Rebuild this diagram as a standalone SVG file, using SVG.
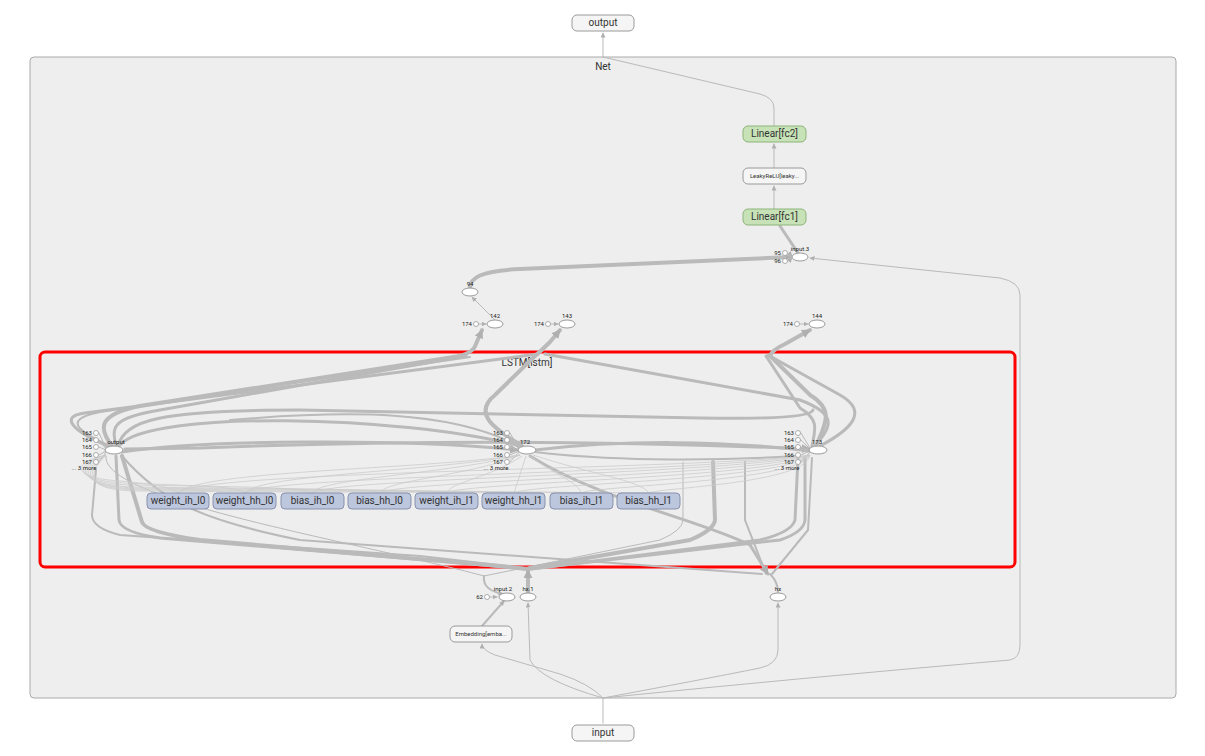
<svg xmlns="http://www.w3.org/2000/svg" width="1205" height="756" viewBox="0 0 1205 756">
<style>
  text { font-family: Roboto, "Liberation Sans", sans-serif; fill: #333; }
  .lbl { font-size: 10px; text-anchor: middle; dominant-baseline: middle; }
  .sm { font-size: 6px; text-anchor: middle; dominant-baseline: middle; fill: #222; }
  .smr { font-size: 6px; text-anchor: end; dominant-baseline: middle; fill: #222; }
  .op { fill: #f5f5f5; stroke: #9a9a9a; stroke-width: 1; }
  .mod { fill: #c6e2b6; stroke: #8db47a; stroke-width: 1; }
  .par { fill: #bcc6dd; stroke: #8791ad; stroke-width: 1; }
  .ell { fill: #ffffff; stroke: #9a9a9a; stroke-width: 1; }
  .dot { fill: #ffffff; stroke: #9a9a9a; stroke-width: 0.8; }
  .e { fill: none; stroke: #bababa; stroke-linecap: round; }
  .w1 { stroke-width: 1; }
  .w2 { stroke-width: 2; }
  .w3 { stroke-width: 3; }
  .w4 { stroke-width: 4; }
  .thin { fill: none; stroke: #cccccc; stroke-width: 0.8; }
</style>
<defs>
  <marker id="arr" viewBox="0 0 10 10" refX="9" refY="5" markerWidth="5" markerHeight="5" orient="auto" markerUnits="userSpaceOnUse">
    <path d="M0,0 L10,5 L0,10 z" fill="#b0b0b0"/>
  </marker>
  <marker id="arrB" viewBox="0 0 10 10" refX="9" refY="5" markerWidth="9" markerHeight="9" orient="auto" markerUnits="userSpaceOnUse">
    <path d="M0,0 L10,5 L0,10 z" fill="#b0b0b0"/>
  </marker>
</defs>

<rect width="1205" height="756" fill="#ffffff"/>

<!-- Net container -->
<g id="net">
  <rect x="30" y="57" width="1146" height="641" rx="4" fill="#eeeeee" stroke="#aaaaaa" stroke-width="1"/>
  <text class="lbl" x="603" y="67">Net</text>
</g>

<!-- LSTM container -->
<g id="lstm">
  <rect x="40" y="352" width="975" height="215" rx="5" fill="#eeeeee" stroke="#ff0000" stroke-width="3"/>
  <text class="lbl" x="527" y="363">LSTM[lstm]</text>
</g>

<!-- connectors -->
<g id="edges">
  <!-- top chain -->
  <path class="e w1" d="M603,57 L603,33" marker-end="url(#arr)"/>
  <path class="e w1" d="M774,126 L774,108 Q774,98 760,94 L603,57"/>
  <path class="e w1" d="M774,168 L774,144" marker-end="url(#arr)"/>
  <path class="e w1" d="M774,209 L774,186" marker-end="url(#arr)"/>
  <path class="e w3" d="M798,253 L780,226"/>
  <path class="e w1" d="M789,253 L792,256" marker-end="url(#arr)"/>
  <path class="e w1" d="M789,261 L792,258" marker-end="url(#arr)"/>
  <path class="e w4" d="M470,288 C470,278 480,271 520,269 L790,257" marker-end="url(#arr)"/>
  <path class="e w1" d="M495,320 L472,297" marker-end="url(#arr)"/>
  <!-- small inputs into 142/143/144 -->
  <path class="e w1" d="M479,324 L486,324" marker-end="url(#arr)"/>
  <path class="e w1" d="M551,324 L558,324" marker-end="url(#arr)"/>
  <path class="e w1" d="M800,324 L808,324" marker-end="url(#arr)"/>

  <!-- input fan-out -->
  <path class="e w1" d="M603,723 L603,699" />
  <path class="e w1" d="M603,698 Q590,684 560,674 L495,655 Q482,650 482,644" marker-end="url(#arr)"/>
  <path class="e w1" d="M603,698 Q540,680 530,660 L528,603" marker-end="url(#arr)"/>
  <path class="e w1" d="M603,698 Q700,680 760,668 Q778,664 778,650 L778,603" marker-end="url(#arr)"/>
  <path class="e w1" d="M603,698 Q800,678 1010,660 Q1020,658 1020,645 L1020,295 Q1020,282 1000,278 L810,258" marker-end="url(#arr)"/>
  <path class="e w2" d="M482,626 L504,601" marker-end="url(#arr)"/>
  <path class="e w1" d="M490,597 L497,597" marker-end="url(#arr)"/>

  <!-- LSTM outgoing towards 142 -->
  <path class="e w4" d="M112,446 C100,430 95,415 140,406 L460,356 Q474,352 476,344 L482,330" marker-end="url(#arrB)"/>
  <path class="e w3" d="M116,446 C112,428 110,418 160,410 L466,356"/>
  <path class="e w2" d="M110,446 C80,432 60,420 100,412 L470,357"/>
  <!-- towards 143 -->
  <path class="e w4" d="M522,446 C500,432 470,415 495,395 L535,356 Q542,350 550,342 L560,330" marker-end="url(#arrB)"/>
  <path class="e w3" d="M108,446 C70,430 60,416 85,413 L538,354"/>
  <path class="e w3" d="M815,446 C830,428 840,415 800,400 L545,354"/>
  <!-- towards 144 -->
  <path class="e w4" d="M816,446 C825,425 835,410 810,395 L770,356 Q772,350 785,344 L810,330" marker-end="url(#arrB)"/>
  <path class="e w3" d="M820,446 C850,430 870,412 840,395 L768,355"/>
  <path class="e w3" d="M812,446 C815,430 820,420 800,408 L766,356"/>

  <!-- long arcs between cells -->
  <path class="e w3" d="M118,446 C125,420 160,410 300,410 L700,418 Q810,420 813,410"/>
  <path class="e w3" d="M125,449 L200,448 C400,440 600,440 810,449" marker-end="url(#arrB)"/>
  <path class="e w3" d="M122,452 C200,440 400,438 518,450" marker-end="url(#arrB)"/>
  <path class="e w3" d="M535,450 C620,440 720,440 810,451"/>
  <path class="e w2" d="M535,452 C600,460 700,462 795,456"/>
  <path class="e w2" d="M230,420 C350,410 450,410 519,446"/>
  <path class="e w3" d="M120,445 C150,410 400,415 520,446"/>

  <!-- state inputs: hx.1 upward into the cells -->
  <path class="e w4" d="M528,593 L528,570" marker-end="url(#arrB)"/>
  <path class="e w2" d="M96,470 L92,515 Q92,528 120,535 L420,556 L526,568" />
  <path class="e w3" d="M116,456 L119,520 Q120,532 160,538 L450,562 L526,569" />
  <path class="e w4" d="M122,456 L142,522 Q145,532 200,540 L500,566 L527,569" />
  <path class="e w4" d="M713,462 L715,520 Q714,530 690,540 L530,568"/>
  <path class="e w3" d="M805,458 L805,520 Q804,532 780,540 L530,569" />
  <path class="e w3" d="M798,458 L795,520 Q792,532 760,540 L531,569" />
  <!-- hx -->
  <path class="e w2" d="M122,456 C160,500 200,520 300,540 L762,574" />
  <path class="e w2" d="M745,462 L745,520 L766,574" />
  <path class="e w2" d="M812,458 L808,530 L772,574" />
  <path class="e w3" d="M530,456 C600,500 700,520 750,545 L768,574" marker-end="url(#arrB)"/>
  <path class="e w2" d="M770,574 Q778,582 778,592" />
  <!-- input.2 -->
  <path class="e w1" d="M683,462 L683,520 Q683,530 660,540 L484,576" />
  <path class="e w1" d="M106,456 C100,500 350,540 484,576" />
  <path class="e w2" d="M484,576 Q482,590 503,594" marker-end="url(#arr)"/>

  <!-- small inputs into output/172/173 -->
  <path class="e w1" d="M99,433 L106,448"/>
  <path class="e w1" d="M99,440 L106,449"/>
  <path class="e w1" d="M99,447 L106,450"/>
  <path class="e w1" d="M99,455 L106,451"/>
  <path class="e w1" d="M99,462 L106,452"/>
  <path class="e w1" d="M510,433 L519,448"/>
  <path class="e w1" d="M510,440 L519,449"/>
  <path class="e w1" d="M510,447 L519,450"/>
  <path class="e w1" d="M510,455 L519,451"/>
  <path class="e w1" d="M510,462 L519,452"/>
  <path class="e w1" d="M801,433 L810,448"/>
  <path class="e w1" d="M801,440 L810,449"/>
  <path class="e w1" d="M801,447 L810,450"/>
  <path class="e w1" d="M801,455 L810,451"/>
  <path class="e w1" d="M801,462 L810,452"/>

  <!-- parameter feeds -->
  <path class="thin" d="M106,455 C72,462 70,478 120,481 C150,484 170,486 178,493"/>
  <path class="thin" d="M106,455 C74,464 72,480 124,483 C200,486 236,486 245,493"/>
  <path class="thin" d="M106,455 C76,466 74,482 128,485 C250,487 302,487 312,493"/>
  <path class="thin" d="M106,455 C78,468 76,484 132,487 C280,489 370,488 380,493"/>
  <path class="thin" d="M106,455 C80,470 78,486 136,488 C300,490 438,489 447,493"/>
  <path class="thin" d="M106,455 C82,472 80,488 140,489 C320,491 505,490 514,493"/>
  <path class="thin" d="M106,455 C84,474 82,490 144,490 C330,492 572,491 581,493"/>
  <path class="thin" d="M106,455 C86,476 84,492 148,491 C340,493 640,492 649,493"/>
  <path class="thin" d="M520,455 C420,470 200,470 178,493"/>
  <path class="thin" d="M520,455 C430,472 260,474 245,493"/>
  <path class="thin" d="M520,455 C450,474 320,478 312,493"/>
  <path class="thin" d="M520,455 C470,476 385,480 380,493"/>
  <path class="thin" d="M522,456 C490,478 450,482 447,493"/>
  <path class="thin" d="M526,456 L514,493"/>
  <path class="thin" d="M530,456 C560,478 578,482 581,493"/>
  <path class="thin" d="M533,455 C590,474 640,480 649,493"/>
  <path class="thin" d="M810,455 C700,470 200,470 178,493"/>
  <path class="thin" d="M810,455 C720,472 260,476 245,493"/>
  <path class="thin" d="M810,455 C740,474 330,478 312,493"/>
  <path class="thin" d="M810,455 C760,476 400,480 380,493"/>
  <path class="thin" d="M810,455 C780,478 460,482 447,493"/>
  <path class="thin" d="M810,455 C790,480 525,484 514,493"/>
  <path class="thin" d="M810,455 C800,482 590,486 581,493"/>
  <path class="thin" d="M810,455 C806,484 655,488 649,493"/>
</g>

<!-- top-level nodes -->
<g id="node-output">
  <rect class="op" x="572" y="15" width="62" height="16" rx="5"/>
  <text class="lbl" x="603" y="23.5">output</text>
</g>
<g id="node-fc2">
  <rect class="mod" x="743" y="126" width="63" height="16" rx="5"/>
  <text class="lbl" x="774.5" y="134.5">Linear[fc2]</text>
</g>
<g id="node-leaky">
  <rect class="op" x="743" y="168" width="63" height="16" rx="5"/>
  <text class="lbl" x="774.5" y="176.5" style="font-size:6px">LeakyReLU[leaky...</text>
</g>
<g id="node-fc1">
  <rect class="mod" x="743" y="209" width="63" height="16" rx="5"/>
  <text class="lbl" x="774.5" y="217.5">Linear[fc1]</text>
</g>
<g id="node-input3">
  <ellipse class="ell" cx="800" cy="257" rx="8" ry="4"/>
  <text class="sm" x="800" y="249">input.3</text>
  <circle class="dot" cx="785" cy="253" r="2.5"/>
  <text class="smr" x="781" y="253.5">95</text>
  <circle class="dot" cx="785" cy="261" r="2.5"/>
  <text class="smr" x="781" y="261.5">96</text>
</g>
<g id="node-94">
  <ellipse class="ell" cx="470" cy="292" rx="8" ry="4"/>
  <text class="sm" x="470" y="284">94</text>
</g>
<g id="node-142">
  <ellipse class="ell" cx="495" cy="324" rx="8" ry="4"/>
  <text class="sm" x="495" y="316">142</text>
  <circle class="dot" cx="476" cy="324" r="2.5"/>
  <text class="smr" x="472" y="324.5">174</text>
</g>
<g id="node-143">
  <ellipse class="ell" cx="567" cy="324" rx="8" ry="4"/>
  <text class="sm" x="567" y="316">143</text>
  <circle class="dot" cx="548" cy="324" r="2.5"/>
  <text class="smr" x="544" y="324.5">174</text>
</g>
<g id="node-144">
  <ellipse class="ell" cx="817" cy="324" rx="8" ry="4"/>
  <text class="sm" x="817" y="316">144</text>
  <circle class="dot" cx="797" cy="324" r="2.5"/>
  <text class="smr" x="793" y="324.5">174</text>
</g>

<!-- LSTM cells -->
<g id="node-lstm-output">
  <ellipse class="ell" cx="114" cy="450" rx="9" ry="4"/>
  <text class="sm" x="116" y="442">output</text>
  <circle class="dot" cx="96" cy="433" r="2.5"/><text class="smr" x="92" y="433.5">163</text>
  <circle class="dot" cx="96" cy="440" r="2.5"/><text class="smr" x="92" y="440.5">164</text>
  <circle class="dot" cx="96" cy="447" r="2.5"/><text class="smr" x="92" y="447.5">165</text>
  <circle class="dot" cx="96" cy="455" r="2.5"/><text class="smr" x="92" y="455.5">166</text>
  <circle class="dot" cx="96" cy="462" r="2.5"/><text class="smr" x="92" y="462.5">167</text>
  <text class="sm" x="84" y="468.5">... 3 more</text>
</g>
<g id="node-172">
  <ellipse class="ell" cx="527" cy="450" rx="9" ry="4"/>
  <text class="sm" x="525" y="442">172</text>
  <circle class="dot" cx="507" cy="433" r="2.5"/><text class="smr" x="503" y="433.5">163</text>
  <circle class="dot" cx="507" cy="440" r="2.5"/><text class="smr" x="503" y="440.5">164</text>
  <circle class="dot" cx="507" cy="447" r="2.5"/><text class="smr" x="503" y="447.5">165</text>
  <circle class="dot" cx="507" cy="455" r="2.5"/><text class="smr" x="503" y="455.5">166</text>
  <circle class="dot" cx="507" cy="462" r="2.5"/><text class="smr" x="503" y="462.5">167</text>
  <text class="sm" x="496" y="468.5">... 3 more</text>
</g>
<g id="node-173">
  <ellipse class="ell" cx="818" cy="450" rx="9" ry="4"/>
  <text class="sm" x="817" y="442">173</text>
  <circle class="dot" cx="798" cy="433" r="2.5"/><text class="smr" x="794" y="433.5">163</text>
  <circle class="dot" cx="798" cy="440" r="2.5"/><text class="smr" x="794" y="440.5">164</text>
  <circle class="dot" cx="798" cy="447" r="2.5"/><text class="smr" x="794" y="447.5">165</text>
  <circle class="dot" cx="798" cy="455" r="2.5"/><text class="smr" x="794" y="455.5">166</text>
  <circle class="dot" cx="798" cy="462" r="2.5"/><text class="smr" x="794" y="462.5">167</text>
  <text class="sm" x="787" y="468.5">... 3 more</text>
</g>

<!-- LSTM parameters -->
<g id="node-weight_ih_l0"><rect class="par" x="147" y="493" width="62" height="16" rx="4"/><text class="lbl" x="178" y="501.5">weight_ih_l0</text></g>
<g id="node-weight_hh_l0"><rect class="par" x="213" y="493" width="63" height="16" rx="4"/><text class="lbl" x="244.5" y="501.5">weight_hh_l0</text></g>
<g id="node-bias_ih_l0"><rect class="par" x="281" y="493" width="63" height="16" rx="4"/><text class="lbl" x="312.5" y="501.5">bias_ih_l0</text></g>
<g id="node-bias_hh_l0"><rect class="par" x="348" y="493" width="63" height="16" rx="4"/><text class="lbl" x="379.5" y="501.5">bias_hh_l0</text></g>
<g id="node-weight_ih_l1"><rect class="par" x="415" y="493" width="63" height="16" rx="4"/><text class="lbl" x="446.5" y="501.5">weight_ih_l1</text></g>
<g id="node-weight_hh_l1"><rect class="par" x="482" y="493" width="63" height="16" rx="4"/><text class="lbl" x="513.5" y="501.5">weight_hh_l1</text></g>
<g id="node-bias_ih_l1"><rect class="par" x="550" y="493" width="63" height="16" rx="4"/><text class="lbl" x="581.5" y="501.5">bias_ih_l1</text></g>
<g id="node-bias_hh_l1"><rect class="par" x="617" y="493" width="63" height="16" rx="4"/><text class="lbl" x="648.5" y="501.5">bias_hh_l1</text></g>

<!-- lower nodes -->
<g id="node-input2">
  <ellipse class="ell" cx="507" cy="597" rx="8" ry="4"/>
  <text class="sm" x="503" y="589">input.2</text>
  <circle class="dot" cx="487" cy="597" r="2.5"/>
  <text class="smr" x="483" y="597.5">62</text>
</g>
<g id="node-hx1">
  <ellipse class="ell" cx="528" cy="597" rx="8" ry="4"/>
  <text class="sm" x="528" y="589">hx.1</text>
</g>
<g id="node-hx">
  <ellipse class="ell" cx="778" cy="597" rx="8" ry="4"/>
  <text class="sm" x="778" y="589">hx</text>
</g>
<g id="node-embedding">
  <rect class="op" x="450" y="626" width="62" height="16" rx="5"/>
  <text class="lbl" x="481" y="634.5" style="font-size:6px">Embedding[emba...</text>
</g>
<g id="node-input">
  <rect class="op" x="572" y="725" width="62" height="16" rx="5"/>
  <text class="lbl" x="603" y="733.5">input</text>
</g>
</svg>
